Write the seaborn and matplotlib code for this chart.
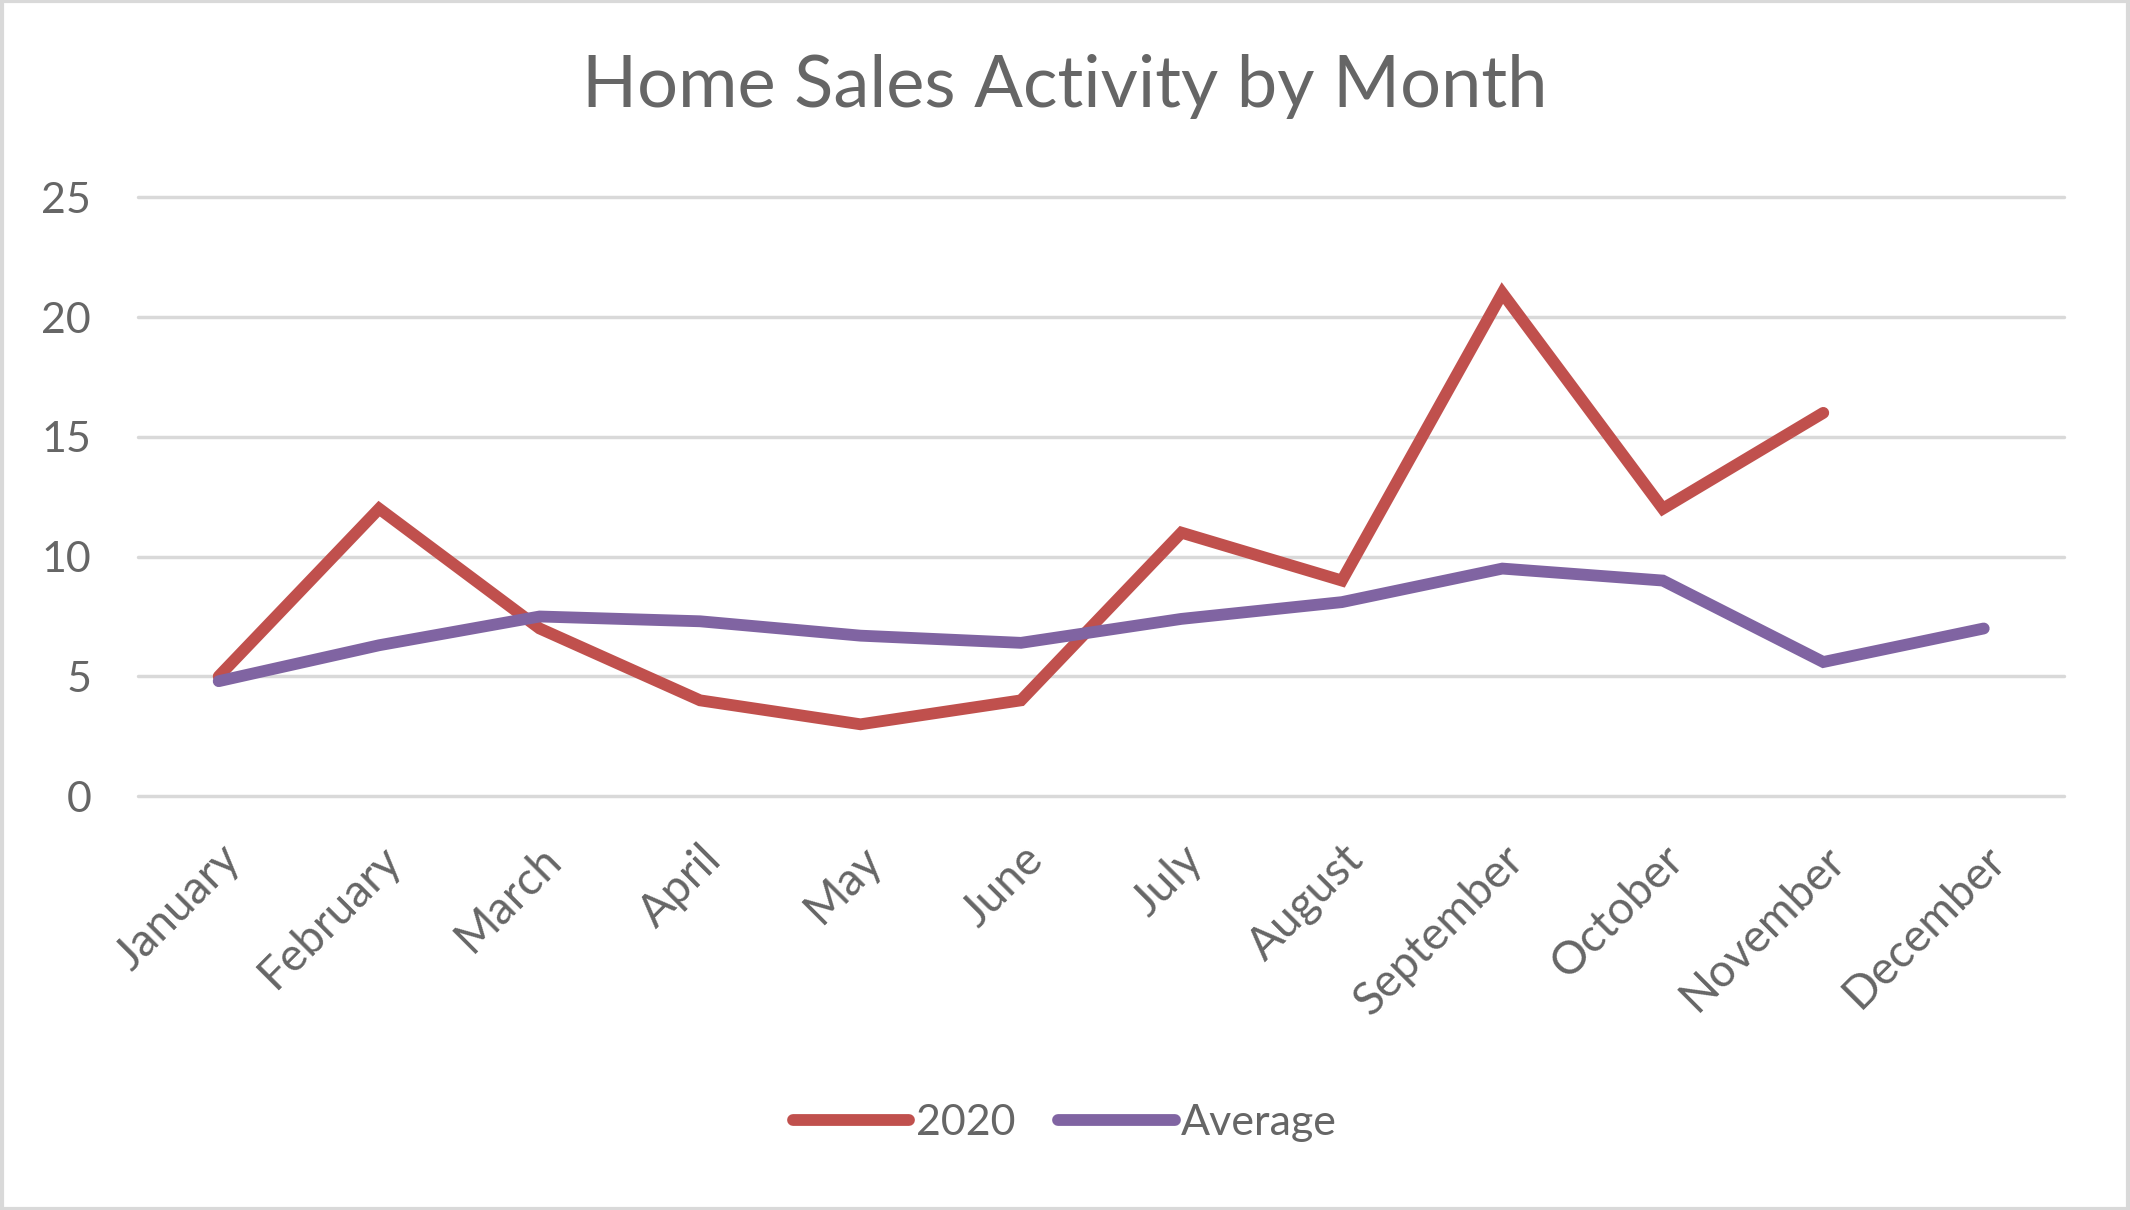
import numpy as np
import pandas as pd
import matplotlib.pyplot as plt
import seaborn as sns
from matplotlib.patches import Rectangle

# chart data
months = ['January', 'February', 'March', 'April', 'May', 'June',
          'July', 'August', 'September', 'October', 'November', 'December']
sales_2020 = [5, 12, 7, 4, 3, 4, 11, 9, 21, 12, 16, np.nan]
sales_avg = [4.8, 6.3, 7.5, 7.3, 6.7, 6.4, 7.4, 8.1, 9.5, 9.0, 5.6, 7.0]
series_names = ['2020', 'Average']
y_ticks = [0, 5, 10, 15, 20, 25]

text_color = '#666666'
grid_color = '#D9D9D9'
palette = {'2020': '#C0504D', 'Average': '#8064A2'}

sns.set_theme(style='white')
plt.rcParams['font.family'] = ['Lato', 'DejaVu Sans']

# long format table for seaborn
df = pd.DataFrame({
    'Month': months * 2,
    'pos': list(range(len(months))) * 2,
    'Sales': sales_2020 + sales_avg,
    'Series': [series_names[0]] * len(months) + [series_names[1]] * len(months),
})

fig = plt.figure(figsize=(21.3, 12.1), dpi=100)
ax = fig.add_axes([0.065, 0.342, 0.904, 0.495])

ax.set_ylim(0, 25)
ax.set_xlim(-0.5, len(months) - 0.5)
ax.set_yticks(y_ticks)
for y in y_ticks:
    ax.axhline(y, color=grid_color, lw=2.5, zorder=0, clip_on=False)

sns.lineplot(data=df, x='pos', y='Sales', hue='Series', palette=palette,
             hue_order=series_names, linewidth=8.5, ax=ax, legend=True,
             solid_capstyle='round', solid_joinstyle='miter')
for line in ax.get_lines():
    line.set_clip_on(False)

ax.set_xticks(range(len(months)))
ax.set_xticklabels(months, rotation=45, ha='right', rotation_mode='anchor',
                   fontsize=33, color=text_color)
ax.tick_params(axis='x', length=0, pad=30)
ax.tick_params(axis='y', length=0, pad=34, labelsize=31, labelcolor=text_color)
ax.set_xlabel('')
ax.set_ylabel('')
sns.despine(ax=ax, left=True, bottom=True, top=True, right=True)

ax.get_legend().remove()
handles, labels = ax.get_legend_handles_labels()
leg = fig.legend(handles, labels, loc='center', bbox_to_anchor=(0.5, 0.072),
                 ncol=2, frameon=False, fontsize=31, handlelength=2.7,
                 handletextpad=0.15, columnspacing=1.0)
for t in leg.get_texts():
    t.set_color(text_color)
for h in leg.legend_handles:
    h.set_linewidth(8.5)
    h.set_solid_capstyle('round')

fig.suptitle('Home Sales Activity by Month', y=0.955, fontsize=52,
             color=text_color)

# light border round the chart area
fig.add_artist(Rectangle((0.001, 0.001), 0.998, 0.998, transform=fig.transFigure,
                         fill=False, edgecolor=grid_color, lw=3))

fig.savefig('out.png', dpi=100)
